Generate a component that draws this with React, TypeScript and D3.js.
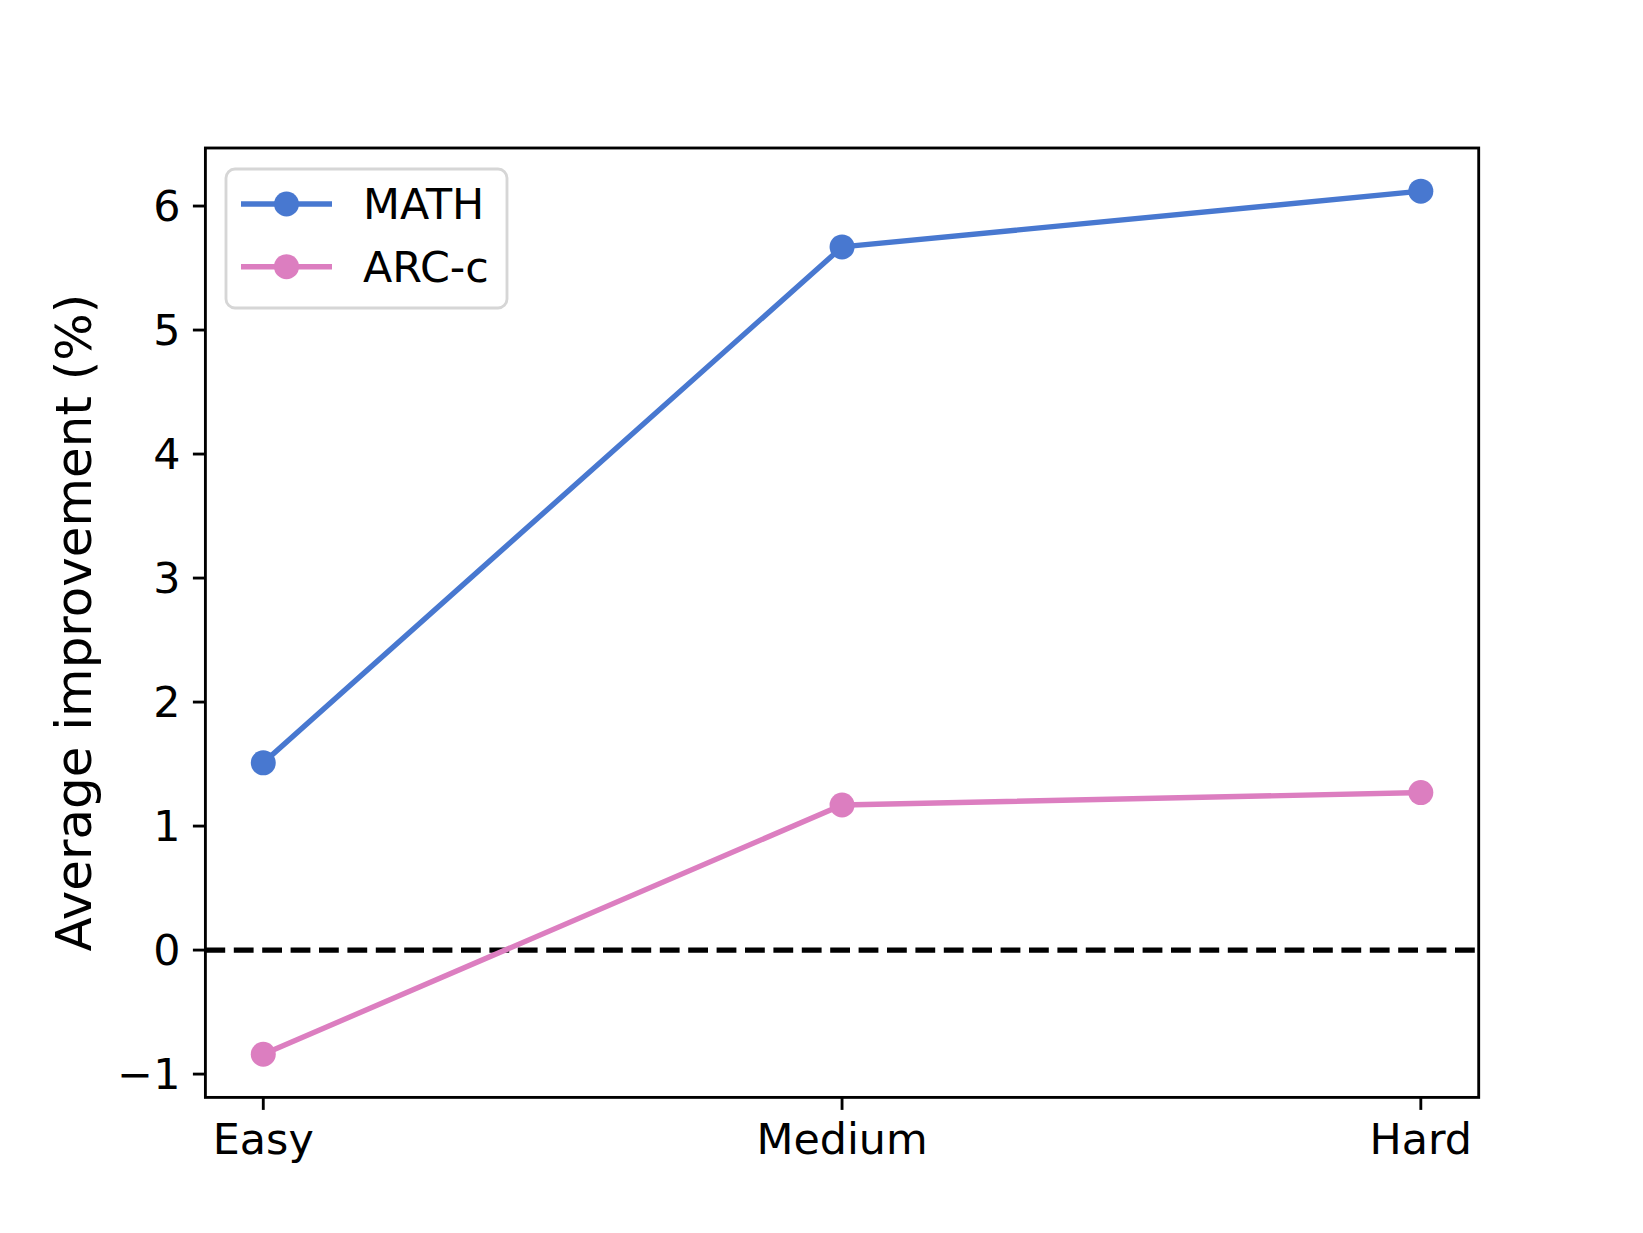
import React from "react";
import * as d3 from "d3";

const categories = ["Easy", "Medium", "Hard"];
const mathValues = [1.51, 5.67, 6.12];
const arcValues = [-0.84, 1.17, 1.27];
const yTicks = [-1, 0, 1, 2, 3, 4, 5, 6];
const seriesNames = ["MATH", "ARC-c"];
const seriesColors = ["#4878D0", "#DC7EC0"];

const W = 1643;
const H = 1233;
const left = 205.4;
const right = 1478.7;
const top = 148;
const bottom = 1097.4;
const FONT = "DejaVu Sans, sans-serif";

export default function App() {
  const x = d3.scaleLinear().domain([-0.1, 2.1]).range([left, right]);
  const allVals = [...mathValues, ...arcValues];
  const lo = d3.min(allVals)!;
  const hi = d3.max(allVals)!;
  const m = (hi - lo) * 0.05;
  const y = d3.scaleLinear().domain([lo - m, hi + m]).range([bottom, top]);
  const line = d3
    .line<number>()
    .x((_, i) => x(i))
    .y((d) => y(d));
  const series = [mathValues, arcValues];
  const tickLen = 12.5;
  const pad = 12.5;

  return (
    <svg
      width={W}
      height={H}
      style={{ position: "absolute", left: 0, top: 0, background: "#fff" }}
      fontFamily={FONT}
    >
      <rect x={0} y={0} width={W} height={H} fill="#fff" />
      {/* zero line */}
      <line
        x1={left}
        x2={right}
        y1={y(0)}
        y2={y(0)}
        stroke="#000"
        strokeWidth={5.35}
        strokeDasharray="19.8 8.6"
      />
      {series.map((vals, si) => (
        <g key={si}>
          <path d={line(vals)!} fill="none" stroke={seriesColors[si]} strokeWidth={5.35} strokeLinejoin="round" strokeLinecap="square" />
          {vals.map((v, i) => (
            <circle key={i} cx={x(i)} cy={y(v)} r={12.5} fill={seriesColors[si]} />
          ))}
        </g>
      ))}
      {/* spines */}
      <rect x={left} y={top} width={right - left} height={bottom - top} fill="none" stroke="#000" strokeWidth={2.85} />
      {/* y ticks */}
      {yTicks.map((t) => (
        <g key={t}>
          <line x1={left - tickLen} x2={left} y1={y(t)} y2={y(t)} stroke="#000" strokeWidth={2.85} />
          <text
            x={left - tickLen - pad}
            y={y(t)}
            textAnchor="end"
            dominantBaseline="central"
            fontSize={42.8}
            fill="#000"
          >
            {t < 0 ? "\u2212" + Math.abs(t) : String(t)}
          </text>
        </g>
      ))}
      {/* x ticks */}
      {categories.map((c, i) => (
        <g key={c}>
          <line x1={x(i)} x2={x(i)} y1={bottom} y2={bottom + tickLen} stroke="#000" strokeWidth={2.85} />
          <text x={x(i)} y={1154} textAnchor="middle" fontSize={42.8} fill="#000">
            {c}
          </text>
        </g>
      ))}
      {/* y label */}
      <text
        transform={`translate(${91},${(top + bottom) / 2}) rotate(-90)`}
        textAnchor="middle"
        fontSize={49.9}
        fill="#000"
      >
        Average improvement (%)
      </text>
      {/* legend */}
      <rect x={226} y={169} width={281} height={139} rx={9} ry={9} fill="#fff" fillOpacity={0.8} stroke="#d6d6d6" strokeWidth={2.85} />
      {seriesNames.map((n, i) => {
        const ly = 204 + i * 62.7;
        return (
          <g key={n}>
            <line x1={241} x2={332} y1={ly} y2={ly} stroke={seriesColors[i]} strokeWidth={5.35} />
            <circle cx={286.5} cy={ly} r={12.5} fill={seriesColors[i]} />
            <text x={363} y={ly} dominantBaseline="central" fontSize={42.8} fill="#000">
              {n}
            </text>
          </g>
        );
      })}
    </svg>
  );
}
